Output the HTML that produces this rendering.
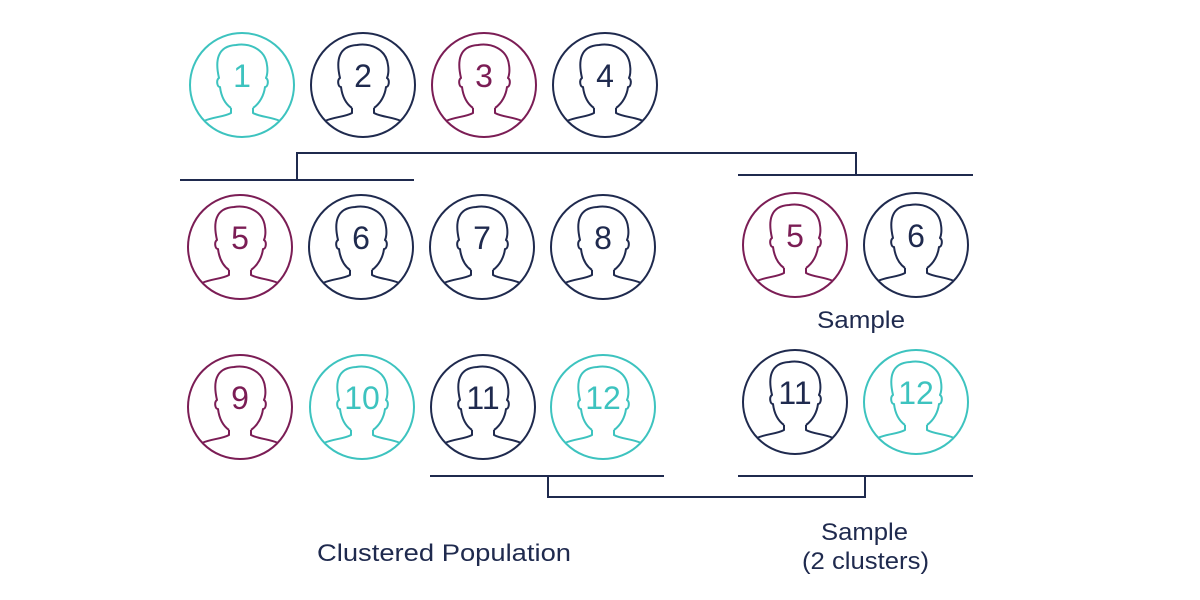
<!DOCTYPE html>
<html><head><meta charset="utf-8"><style>
html,body{margin:0;padding:0;background:#fff;}
svg{display:block;}
</style></head><body>
<svg width="1200" height="600" viewBox="0 0 1200 600" xmlns="http://www.w3.org/2000/svg" font-family="Liberation Sans, sans-serif">
<defs>
<g id="p" fill="none" stroke-width="2" stroke-linejoin="round">
<circle cx="0" cy="0" r="52"/>
<path d="M-11,23 L-11,28 C-18,32 -30,32 -38,36 M11,23 L11,28 C18,32 30,32 38,36"/>
<path d="M-11,23 C-18,18 -21,10 -22,2 C-25,2 -26,-5 -23,-7 C-27,-24 -25,-39 -6,-40 C6,-42 23,-37 25,-20 C26,-14 25,-9 24,-7 C27,-5 26,2 23,2 C22,10 18,18 11,23"/>
</g>
</defs>
<g font-size="32" text-anchor="middle">
<g stroke="#3dc3bf" fill="#3dc3bf"><use href="#p" x="242" y="85"/><text x="242" y="87" stroke="none">1</text></g>
<g stroke="#1f2a4e" fill="#1f2a4e"><use href="#p" x="363" y="85"/><text x="363" y="87" stroke="none">2</text></g>
<g stroke="#7b1d55" fill="#7b1d55"><use href="#p" x="484" y="85"/><text x="484" y="87" stroke="none">3</text></g>
<g stroke="#1f2a4e" fill="#1f2a4e"><use href="#p" x="605" y="85"/><text x="605" y="87" stroke="none">4</text></g>

<g stroke="#7b1d55" fill="#7b1d55"><use href="#p" x="240" y="247"/><text x="240" y="249" stroke="none">5</text></g>
<g stroke="#1f2a4e" fill="#1f2a4e"><use href="#p" x="361" y="247"/><text x="361" y="249" stroke="none">6</text></g>
<g stroke="#1f2a4e" fill="#1f2a4e"><use href="#p" x="482" y="247"/><text x="482" y="249" stroke="none">7</text></g>
<g stroke="#1f2a4e" fill="#1f2a4e"><use href="#p" x="603" y="247"/><text x="603" y="249" stroke="none">8</text></g>

<g stroke="#7b1d55" fill="#7b1d55"><use href="#p" x="240" y="407"/><text x="240" y="409" stroke="none">9</text></g>
<g stroke="#3dc3bf" fill="#3dc3bf"><use href="#p" x="362" y="407"/><text x="362" y="409" stroke="none">10</text></g>
<g stroke="#1f2a4e" fill="#1f2a4e"><use href="#p" x="483" y="407"/><text x="483" y="409" stroke="none">11</text></g>
<g stroke="#3dc3bf" fill="#3dc3bf"><use href="#p" x="603" y="407"/><text x="603" y="409" stroke="none">12</text></g>

<g stroke="#7b1d55" fill="#7b1d55"><use href="#p" x="795" y="245"/><text x="795" y="247" stroke="none">5</text></g>
<g stroke="#1f2a4e" fill="#1f2a4e"><use href="#p" x="916" y="245"/><text x="916" y="247" stroke="none">6</text></g>
<g stroke="#1f2a4e" fill="#1f2a4e"><use href="#p" x="795" y="402"/><text x="795" y="404" stroke="none">11</text></g>
<g stroke="#3dc3bf" fill="#3dc3bf"><use href="#p" x="916" y="402"/><text x="916" y="404" stroke="none">12</text></g>
</g>

<g stroke="#1f2a4e" stroke-width="2" fill="none">
<path d="M180,180 H414 M297,180 V153 H856 V175 M738,175 H973"/>
<path d="M430,476 H664 M548,476 V497 H865 V476 M738,476 H973"/>
</g>

<g fill="#1f2a4e" font-size="24">
<text x="817" y="328" textLength="88" lengthAdjust="spacingAndGlyphs">Sample</text>
<text x="317" y="561" textLength="254" lengthAdjust="spacingAndGlyphs">Clustered Population</text>
<text x="821" y="540" textLength="87" lengthAdjust="spacingAndGlyphs">Sample</text>
<text x="802" y="569" textLength="127" lengthAdjust="spacingAndGlyphs">(2 clusters)</text>
</g>
</svg>
</body></html>
